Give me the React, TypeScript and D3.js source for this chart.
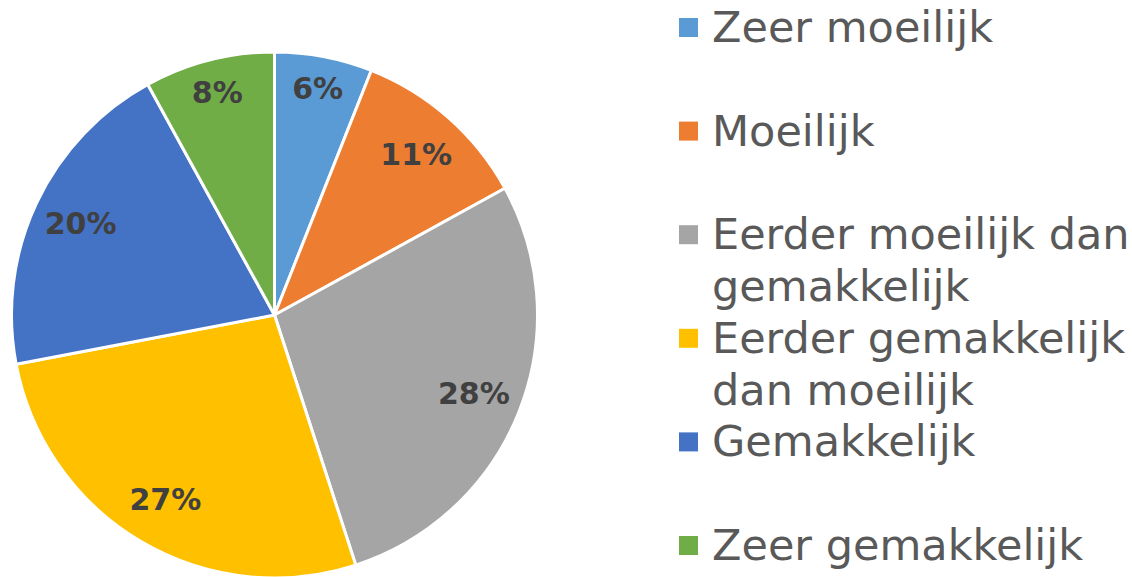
import React from "react";
import * as d3 from "d3";

const categories = [
  "Zeer moeilijk",
  "Moeilijk",
  "Eerder moeilijk dan gemakkelijk",
  "Eerder gemakkelijk dan moeilijk",
  "Gemakkelijk",
  "Zeer gemakkelijk",
];
const legendLines = [
  ["Zeer moeilijk"],
  ["Moeilijk"],
  ["Eerder moeilijk dan", "gemakkelijk"],
  ["Eerder gemakkelijk", "dan moeilijk"],
  ["Gemakkelijk"],
  ["Zeer gemakkelijk"],
];
const values = [6, 11, 28, 27, 20, 8];
const colors = ["#5B9BD5", "#ED7D31", "#A5A5A5", "#FFC000", "#4472C4", "#70AD47"];

const W = 1132;
const H = 577;
const cx = 274.5;
const cy = 315;
const R = 263;

export default function App() {
  const pie = d3.pie<number>().sort(null).value((d) => d)(values);
  const arc = d3.arc<d3.PieArcDatum<number>>().innerRadius(0).outerRadius(R);
  const total = d3.sum(values);
  const font = "'DejaVu Sans', Verdana, sans-serif";
  return (
    <svg
      width={W}
      height={H}
      style={{ position: "absolute", left: 0, top: 0 }}
      fontFamily={font}
    >
      <rect width={W} height={H} fill="#fff" />
      <g transform={`translate(${cx},${cy})`}>
        {pie.map((d, i) => (
          <path key={i} d={arc(d) || ""} fill={colors[i]} stroke="#fff" strokeWidth={3} strokeLinejoin="round" />
        ))}
        {pie.map((d, i) => {
          const lr = values[i] < 10 ? R * 0.875 : R * 0.815;
          const a = (d.startAngle + d.endAngle) / 2;
          const x = Math.sin(a) * lr;
          const y = -Math.cos(a) * lr;
          return (
            <text
              key={i}
              x={x}
              y={y}
              textAnchor="middle"
              dominantBaseline="central"
              fontWeight="bold"
              fontSize={30}
              fill="#404040"
            >
              {Math.round((values[i] / total) * 100)}%
            </text>
          );
        })}
      </g>
      <g>
        {categories.map((c, i) => {
          const base = 42 + i * 103.6;
          return (
            <g key={c}>
              <rect x={679} y={base - 24} width={19} height={19} fill={colors[i]} />
              {legendLines[i].map((ln, j) => (
                <text key={j} x={712} y={base + j * 52} fontSize={43} fill="#595959">
                  {ln}
                </text>
              ))}
            </g>
          );
        })}
      </g>
    </svg>
  );
}
